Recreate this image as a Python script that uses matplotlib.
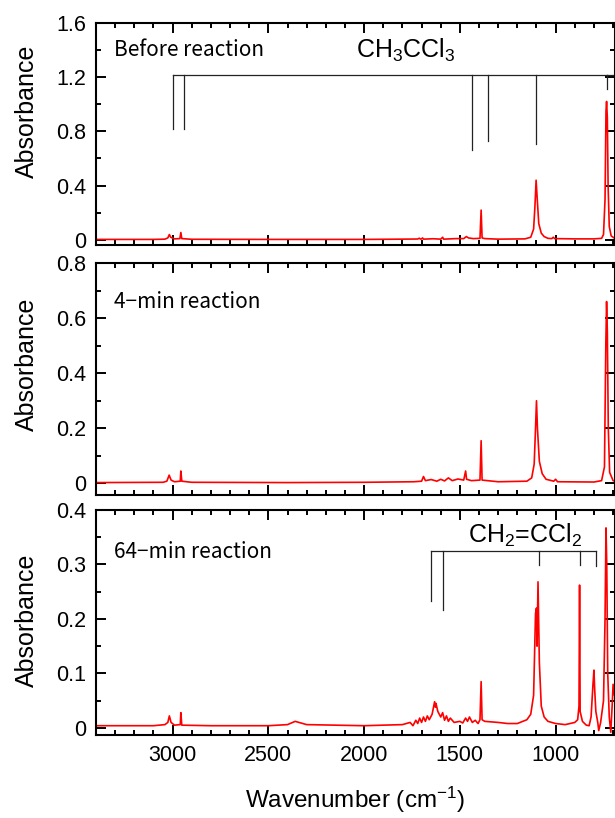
import matplotlib
matplotlib.use('Agg')
import matplotlib.pyplot as plt
from matplotlib.ticker import MultipleLocator, FuncFormatter

plt.rcParams['font.family'] = ['Liberation Sans', 'DejaVu Sans']
plt.rcParams['mathtext.fontset'] = 'custom'
plt.rcParams['mathtext.rm'] = 'Liberation Sans'

# spectrum before reaction (wavenumber, absorbance)
wn1 = [3400, 3100, 3040, 3025, 3017, 3010, 2990, 2962, 2957, 2952, 2900, 2500, 2000,
       1800, 1720, 1712, 1705, 1700, 1695, 1690, 1640, 1600, 1590, 1585, 1520, 1480,
       1466, 1455, 1430, 1395, 1389, 1384, 1370, 1300, 1160, 1130, 1115, 1108, 1102,
       1096, 1088, 1075, 1060, 1040, 1020, 1012, 1005, 900, 800, 760, 750, 742, 737,
       734, 730, 726, 720, 710, 700, 690]
ab1 = [0.004, 0.004, 0.006, 0.015, 0.040, 0.020, 0.008, 0.010, 0.055, 0.010, 0.005, 0.004, 0.004,
       0.006, 0.007, 0.013, 0.006, 0.008, 0.015, 0.006, 0.009, 0.006, 0.020, 0.006, 0.010, 0.010,
       0.025, 0.015, 0.010, 0.012, 0.220, 0.015, 0.010, 0.006, 0.008, 0.020, 0.080, 0.250, 0.440,
       0.300, 0.120, 0.050, 0.025, 0.012, 0.010, 0.020, 0.010, 0.008, 0.008, 0.012, 0.040, 0.300, 0.950,
       1.020, 0.900, 0.400, 0.100, 0.030, 0.020, 0.010]

# 4-min reaction
wn2 = [3400, 3050, 3030, 3018, 3008, 2990, 2960, 2957, 2952, 2900, 2400, 2000, 1740,
       1700, 1690, 1680, 1650, 1620, 1600, 1580, 1560, 1540, 1510, 1480, 1470, 1465,
       1440, 1395, 1389, 1384, 1300, 1150, 1125, 1112, 1105, 1100, 1095, 1085, 1070,
       1050, 1010, 1000, 990, 800, 760, 745, 738, 734, 730, 725, 718, 700, 690]
ab2 = [0.003, 0.004, 0.008, 0.030, 0.012, 0.006, 0.008, 0.045, 0.008, 0.004, 0.003, 0.004, 0.006,
       0.008, 0.025, 0.010, 0.014, 0.008, 0.015, 0.009, 0.020, 0.010, 0.016, 0.012, 0.045, 0.015,
       0.010, 0.012, 0.155, 0.012, 0.006, 0.008, 0.020, 0.070, 0.200, 0.300, 0.200, 0.080, 0.035,
       0.015, 0.008, 0.015, 0.006, 0.005, 0.010, 0.060, 0.500, 0.660, 0.550, 0.200, 0.040, 0.010, 0.008]

# 64-min reaction
wn3 = [3400, 3100, 3040, 3025, 3017, 3008, 2990, 2960, 2957, 2952, 2800, 2500, 2400,
       2360, 2340, 2300, 2000, 1800, 1760, 1745, 1730, 1720, 1710, 1700, 1690, 1680,
       1670, 1660, 1645, 1632, 1628, 1625, 1615, 1600, 1590, 1580, 1570, 1560, 1550,
       1530, 1500, 1485, 1470, 1460, 1450, 1435, 1420, 1405, 1395, 1389, 1384, 1370,
       1300, 1250, 1200, 1150, 1130, 1115, 1105, 1100, 1097, 1092, 1085, 1075, 1060,
       1040, 1000, 950, 900, 885, 878, 875, 872, 860, 840, 825, 815, 805, 800, 796, 790,
       780, 775, 765, 750, 742, 737, 733, 728, 720, 712, 705, 700, 693]
ab3 = [0.004, 0.004, 0.006, 0.010, 0.022, 0.010, 0.005, 0.006, 0.028, 0.005, 0.004, 0.004, 0.006,
       0.012, 0.010, 0.006, 0.004, 0.006, 0.010, 0.004, 0.014, 0.008, 0.018, 0.010, 0.020, 0.012,
       0.022, 0.015, 0.025, 0.048, 0.038, 0.045, 0.030, 0.020, 0.028, 0.014, 0.022, 0.012, 0.018,
       0.010, 0.012, 0.009, 0.018, 0.012, 0.020, 0.010, 0.014, 0.008, 0.015, 0.085, 0.015, 0.012,
       0.010, 0.008, 0.008, 0.015, 0.025, 0.060, 0.210, 0.220, 0.150, 0.268, 0.120, 0.040, 0.020,
       0.012, 0.008, 0.006, 0.010, 0.015, 0.040, 0.262, 0.030, 0.012, 0.005, 0.004, 0.020, 0.080, 0.106, 0.070, 0.030,
       0.010, -0.005, 0.010, 0.050, 0.200, 0.367, 0.300, 0.100, 0.020, -0.008, 0.040, 0.080, 0.060]

# band markers
ch3ccl3_pos = [3000, 2940, 1439, 1353, 1100, 733]
ch3ccl3_low = [0.82, 0.82, 0.666, 0.727, 0.705, 1.108]
ch3ccl3_top = 1.216
ch2ccl2_pos = [1652, 1586, 1089, 872, 787]
ch2ccl2_low = [0.232, 0.216, 0.299, 0.299, 0.297]
ch2ccl2_top = 0.325

labels = ['Before reaction', '4\u2212min reaction', '64\u2212min reaction']
ylims = [(-0.037, 1.6), (-0.042, 0.8), (-0.013, 0.4)]
ymajor = [0.4, 0.2, 0.1]

fig = plt.figure(figsize=(6.15, 8.18), dpi=100)
rects = [[0.1561, 0.7005, 0.8439, 0.2718],
         [0.1561, 0.3949, 0.8439, 0.2836],
         [0.1561, 0.1015, 0.8439, 0.2751]]
axes = [fig.add_axes(r) for r in rects]

fmt = FuncFormatter(lambda v, p: '0' if abs(v) < 1e-9 else f'{v:.1f}')
for i, (ax, wn, ab) in enumerate(zip(axes, [wn1, wn2, wn3], [ab1, ab2, ab3])):
    ax.plot(wn, ab, color='#ff0000', lw=1.2)
    ax.set_xlim(3400, 690)
    ax.set_ylim(*ylims[i])
    ax.xaxis.set_major_locator(MultipleLocator(500))
    ax.xaxis.set_minor_locator(MultipleLocator(100))
    ax.yaxis.set_major_locator(MultipleLocator(ymajor[i]))
    ax.yaxis.set_minor_locator(MultipleLocator(ymajor[i] / 2))
    ax.yaxis.set_major_formatter(fmt)
    ax.tick_params(which='both', direction='in', top=True, right=True, width=1.4,
                   labelsize=15.5, pad=7)
    ax.tick_params(which='major', length=7)
    ax.tick_params(which='minor', length=3.6)
    for s in ax.spines.values():
        s.set_linewidth(1.5)
    if i < 2:
        ax.tick_params(labelbottom=False)
    ax.set_ylabel('Absorbance', fontsize=18)
    ax.yaxis.set_label_coords(-0.11, [0.6, 0.565, 0.51][i])
    ax.text(0.035, [0.877, 0.832, 0.813][i], labels[i], transform=ax.transAxes,
            fontsize=15, va='center', ha='left', family=['Noto Sans CJK JP', 'DejaVu Sans'])

# CH3CCl3 bracket
ax = axes[0]
ax.plot([ch3ccl3_pos[0], ch3ccl3_pos[-1]], [ch3ccl3_top] * 2, color='#222222', lw=0.9)
for x, y in zip(ch3ccl3_pos, ch3ccl3_low):
    ax.plot([x, x], [y, ch3ccl3_top], color='#222222', lw=0.9)
ax.plot([733, 690], [ch3ccl3_top] * 2, color='#222222', lw=0.9)
ax.text(0.597, 0.841, r'CH$\mathregular{_3}$CCl$\mathregular{_3}$', transform=ax.transAxes,
        fontsize=18, ha='center', va='baseline')

# CH2=CCl2 bracket
ax = axes[2]
ax.plot([ch2ccl2_pos[0], ch2ccl2_pos[-1]], [ch2ccl2_top] * 2, color='#222222', lw=0.9)
for x, y in zip(ch2ccl2_pos, ch2ccl2_low):
    ax.plot([x, x], [y, ch2ccl2_top], color='#222222', lw=0.9)
ax.text(0.827, 0.855, r'CH$\mathregular{_2}$=CCl$\mathregular{_2}$', transform=ax.transAxes,
        fontsize=18, ha='center', va='baseline')
ax.set_xlabel('Wavenumber (cm$\\mathregular{^{-1}}$)', fontsize=17.5, labelpad=14)

fig.savefig('out.png', dpi=100)
